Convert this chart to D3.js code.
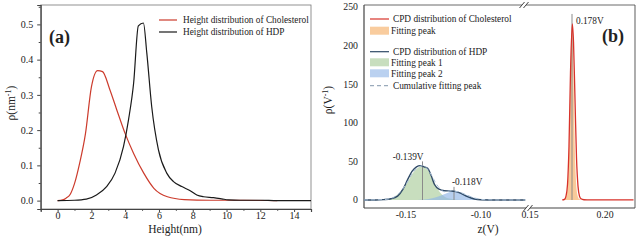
<!DOCTYPE html>
<html>
<head>
<meta charset="utf-8">
<script src="https://cdn.jsdelivr.net/npm/d3@7"></script>
<style>
  body { margin: 0; background: #fff; }
  svg { display: block; }
  text { font-family: "Liberation Serif", "Times New Roman", serif; fill: #222; }
</style>
</head>
<body>
<div id="chart"></div>
<script>
// ---- panel (a): height distributions ----
var cholHeight = [0, 0.3, 0.5, 0.75, 1.0, 1.3, 1.65, 2.0, 2.37, 2.66, 3.1, 3.5, 4.0, 4.5, 5.1, 5.7, 6.5, 7.5, 9, 11, 13];
var cholRho    = [0, 0.002, 0.007, 0.018, 0.048, 0.105, 0.19, 0.322, 0.369, 0.366, 0.314, 0.258, 0.19, 0.134, 0.078, 0.035, 0.011, 0.003, 0.001, 0.001, 0];
var hdpHeight  = [0, 1.0, 1.7, 2.3, 2.9, 3.4, 3.9, 4.2, 4.5, 4.78, 5.08, 5.28, 5.57, 5.97, 6.46, 6.86, 7.35, 7.85, 8.24, 8.64, 9.23, 9.72, 10.1, 10.8, 12, 13, 15];
var hdpRho     = [0, 0.001, 0.004, 0.016, 0.04, 0.078, 0.153, 0.23, 0.333, 0.496, 0.504, 0.419, 0.267, 0.144, 0.078, 0.054, 0.04, 0.028, 0.016, 0.011, 0.0085, 0.005, 0.002, 0.001, 0.001, 0, 0];
var heightTicks = [0, 2, 4, 6, 8, 10, 12, 14];
var rhoTicksA   = [0.0, 0.1, 0.2, 0.3, 0.4, 0.5];

// ---- panel (b): CPD distributions ----
var cpdHdpZ   = [-0.178, -0.17, -0.165, -0.16, -0.1556, -0.152, -0.149, -0.146, -0.143, -0.1405, -0.138, -0.1356, -0.1333, -0.131, -0.128, -0.1244, -0.12, -0.1167, -0.1133, -0.109, -0.1044, -0.1, -0.09, -0.0705];
var cpdHdpRho = [0, 0, 0.5, 1.6, 5, 14, 26, 37, 43, 44.5, 43, 41, 32, 20, 14, 12, 11.7, 10.8, 8.6, 4.3, 1.3, 0.3, 0, 0];
var fit1Z     = [-0.168, -0.165, -0.16, -0.155, -0.15, -0.145, -0.141, -0.139, -0.136, -0.133, -0.13, -0.127, -0.124, -0.12, -0.115, -0.11];
var fit1Rho   = [0, 0.5, 2, 8, 20, 36, 43, 44, 40, 30, 18, 9, 4, 1.5, 0.3, 0];
var fit2Z     = [-0.145, -0.14, -0.135, -0.13, -0.125, -0.12, -0.118, -0.115, -0.11, -0.105, -0.1, -0.095, -0.09];
var fit2Rho   = [0, 0.3, 1.2, 3.5, 7, 10.6, 11, 10.3, 6.8, 3, 0.8, 0.2, 0];
var cumZ      = [-0.178, -0.165, -0.16, -0.155, -0.15, -0.145, -0.141, -0.139, -0.136, -0.133, -0.13, -0.127, -0.124, -0.12, -0.118, -0.115, -0.11, -0.105, -0.1, -0.095, -0.09, -0.0705];
var cumRho    = [0, 0.5, 2, 8, 20.2, 36.5, 43.3, 44.3, 40.8, 32, 21.5, 14, 10.5, 12, 11.5, 10.6, 6.8, 3, 0.8, 0.2, 0, 0];
var cholZ     = [0.1715, 0.173, 0.174, 0.175, 0.176, 0.177, 0.1782, 0.179, 0.18, 0.181, 0.182, 0.183, 0.184, 0.186, 0.19, 0.219];
var cholCpd   = [0, 0.8, 5, 20, 70, 165, 228, 205, 130, 55, 18, 5, 1.5, 0.3, 0, 0];
var cholFitZ  = [0.172, 0.174, 0.175, 0.176, 0.177, 0.178, 0.179, 0.18, 0.181, 0.182, 0.183, 0.185];
var cholFitRho= [0, 4, 15, 60, 160, 225, 160, 60, 15, 4, 1, 0];
var zTicks    = [-0.15, -0.10, 0.15, 0.20];
var rhoTicksB = [0, 50, 100, 150, 200, 250];
var peakMarks = [{z: -0.139, top: 50, label: "-0.139V", anchor: "end", dx: 1, dy: -1},
                 {z: -0.118, top: 17, label: "-0.118V", anchor: "start", dx: -2, dy: -2},
                 {z: 0.178, top: 241, label: "0.178V", anchor: "start", dx: 4, dy: 10}];

var width = 638, height = 243;
var axisColor = "#444";
var redA = "#cc3b2c", blackA = "#1a1a1a";
var redB = "#d8322a", hdpColor = "#2f4a66";

var svg = d3.select("#chart").append("svg")
    .attr("width", width)
    .attr("height", height);

var pts = (xs, ys) => xs.map((x, i) => [x, ys[i]]);

// ================= panel (a) =================
var xA = d3.scaleLinear().domain([-1, 15]).range([40.7, 311]);
var yA = d3.scaleLinear().domain([-0.0238, 0.555]).range([209, 5]);

var gA = svg.append("g");

// frame
gA.append("rect")
    .attr("x", xA.range()[0]).attr("y", yA.range()[1])
    .attr("width", xA.range()[1] - xA.range()[0])
    .attr("height", yA.range()[0] - yA.range()[1])
    .attr("fill", "none").attr("stroke", "#777").attr("stroke-width", 0.8);

// axes with minor ticks
var xAxisA = gA.append("g").attr("transform", `translate(0,${yA.range()[0]})`)
    .call(d3.axisBottom(xA).tickValues(heightTicks).tickSize(3).tickFormat(d3.format("d")));
gA.append("g").attr("transform", `translate(0,${yA.range()[0]})`)
    .call(d3.axisBottom(xA).tickValues(d3.range(-1, 16, 1).filter(d => d % 2 !== 0)).tickSize(1.8).tickFormat(""))
    .call(g => g.select(".domain").remove());
var yAxisA = gA.append("g").attr("transform", `translate(${xA.range()[0]},0)`)
    .call(d3.axisLeft(yA).tickValues(rhoTicksA).tickSize(3.5).tickFormat(d3.format(".1f")));
gA.append("g").attr("transform", `translate(${xA.range()[0]},0)`)
    .call(d3.axisLeft(yA).tickValues([0.05, 0.15, 0.25, 0.35, 0.45, 0.55]).tickSize(2).tickFormat(""))
    .call(g => g.select(".domain").remove());

gA.selectAll(".domain").attr("stroke", axisColor).attr("stroke-width", 1.2);
gA.selectAll(".tick line").attr("stroke", axisColor);
gA.selectAll(".tick text").attr("font-family", "Liberation Serif").attr("font-size", 10).attr("fill", "#222");
xAxisA.selectAll(".tick text").attr("y", 3.2).attr("dy", "0.71em");
yAxisA.selectAll(".tick text").attr("dx", "-0.1em");

var lineA = d3.line().x(d => xA(d[0])).y(d => yA(d[1])).curve(d3.curveMonotoneX);
gA.append("path").datum(pts(cholHeight, cholRho))
    .attr("d", lineA).attr("fill", "none").attr("stroke", redA).attr("stroke-width", 1.2);
gA.append("path").datum(pts(hdpHeight, hdpRho))
    .attr("d", lineA).attr("fill", "none").attr("stroke", blackA).attr("stroke-width", 1.2);

// titles
gA.append("text").attr("x", 175).attr("y", 233).attr("text-anchor", "middle")
    .attr("font-size", 11.5).text("Height(nm)");
gA.append("text").attr("transform", "translate(15,103) rotate(-90)").attr("text-anchor", "middle")
    .attr("font-size", 11.5)
    .call(t => {
      t.append("tspan").text("ρ(nm");
      t.append("tspan").attr("font-size", 8).attr("dy", -4).text("-1");
      t.append("tspan").attr("dy", 4).text(")");
    });
gA.append("text").attr("x", 49).attr("y", 43)
    .attr("font-family", "Open Sans").attr("font-weight", "bold").attr("font-size", 18).attr("fill", "#111")
    .text("(a)");

// legend (a)
var legA = [{label: "Height distribution of Cholesterol", color: redA, y: 20},
            {label: "Height distribution of HDP", color: blackA, y: 32}];
var lgA = gA.selectAll(".legA").data(legA).join("g");
lgA.append("line").attr("x1", 159).attr("x2", 177).attr("y1", d => d.y).attr("y2", d => d.y)
    .attr("stroke", d => d.color).attr("stroke-width", 1.2);
lgA.append("text").attr("x", 183).attr("y", d => d.y + 3.2).attr("font-size", 9.3).text(d => d.label);

// ================= panel (b) =================
// broken axis: left part [-0.178,-0.07], right part [0.15,0.22]
var xB = d3.scaleLinear().domain([-0.178, -0.07, 0.15, 0.22]).range([364, 526, 530, 635]);
var yB = d3.scaleLinear().domain([-10.4, 252.6]).range([208, 5]);
var gB = svg.append("g");

var x0 = 364, x1 = 635, yTop = 5, yBot = 208, br1 = 526, br2 = 530;
var frame = [[x0, yTop, x0, yBot], [x1, yTop, x1, yBot],
             [x0, yBot, br1, yBot], [br2, yBot, x1, yBot],
             [x0, yTop, br1 - 4, yTop], [br2 - 4, yTop, x1, yTop]];
gB.selectAll(".frame").data(frame).join("line")
    .attr("x1", d => d[0]).attr("y1", d => d[1]).attr("x2", d => d[2]).attr("y2", d => d[3])
    .attr("stroke", d => d[0] === x1 && d[2] === x1 ? "#777" : axisColor)
    .attr("stroke-width", d => d[1] === yTop && d[3] === yTop ? 0.8 : 1.2);
// break marks
var breaks = [[br1, yBot], [br2, yBot], [br1 - 4, yTop], [br2 - 4, yTop]];
gB.selectAll(".brk").data(breaks).join("line")
    .attr("x1", d => d[0] - 2.5).attr("y1", d => d[1] + 3)
    .attr("x2", d => d[0] + 2.5).attr("y2", d => d[1] - 3)
    .attr("stroke", axisColor).attr("stroke-width", 1);

// tick labels (no tick marks)
gB.selectAll(".xl").data(zTicks).join("text")
    .attr("x", d => xB(d)).attr("y", 218).attr("text-anchor", "middle").attr("font-size", 9.8)
    .text(d => d3.format(".2f")(d).replace("−", "-"));
gB.selectAll(".yl").data(rhoTicksB).join("text")
    .attr("x", 358).attr("y", d => yB(d) + 3.4).attr("text-anchor", "end").attr("font-size", 9.8)
    .text(d => d);

// fills
var areaB = d3.area().x(d => xB(d[0])).y0(yB(0)).y1(d => yB(d[1])).curve(d3.curveMonotoneX);
var lineB = d3.line().x(d => xB(d[0])).y(d => yB(d[1])).curve(d3.curveMonotoneX);
gB.append("path").datum(pts(fit1Z, fit1Rho)).attr("d", areaB)
    .attr("fill", "#a6ca96").attr("fill-opacity", 0.62);
gB.append("path").datum(pts(fit2Z, fit2Rho)).attr("d", areaB)
    .attr("fill", "#8fb5e6").attr("fill-opacity", 0.65);
gB.append("path").datum(pts(cholFitZ, cholFitRho)).attr("d", areaB)
    .attr("fill", "#f6ad63").attr("fill-opacity", 0.65);

// peak marker lines and labels
gB.selectAll(".pk").data(peakMarks).join("line")
    .attr("x1", d => xB(d.z)).attr("x2", d => xB(d.z))
    .attr("y1", d => yB(d.top)).attr("y2", yB(0))
    .attr("stroke", "#8a8a8a").attr("stroke-width", 1);
gB.selectAll(".pkl").data(peakMarks).join("text")
    .attr("x", d => xB(d.z) + d.dx).attr("y", d => yB(d.top) + d.dy)
    .attr("text-anchor", d => d.anchor).attr("font-size", 9.3).text(d => d.label);

// curves
gB.append("path").datum(pts(cpdHdpZ, cpdHdpRho)).attr("d", lineB)
    .attr("fill", "none").attr("stroke", hdpColor).attr("stroke-width", 1.4);
gB.append("path").datum(pts(cumZ, cumRho)).attr("d", lineB)
    .attr("fill", "none").attr("stroke", "#a9bfd6").attr("stroke-width", 1).attr("stroke-dasharray", "4,3");
gB.append("path").datum(pts(cholZ, cholCpd)).attr("d", lineB)
    .attr("fill", "none").attr("stroke", redB).attr("stroke-width", 1.3);

// titles
gB.append("text").attr("x", 488).attr("y", 233).attr("text-anchor", "middle")
    .attr("font-size", 11.5).text("z(V)");
gB.append("text").attr("transform", "translate(332,100) rotate(-90)").attr("text-anchor", "middle")
    .attr("font-size", 11.5)
    .call(t => {
      t.append("tspan").text("ρ(V");
      t.append("tspan").attr("font-size", 8).attr("dy", -4).text("-1");
      t.append("tspan").attr("dy", 4).text(")");
    });
gB.append("text").attr("x", 602).attr("y", 42)
    .attr("font-family", "Open Sans").attr("font-weight", "bold").attr("font-size", 18).attr("fill", "#111")
    .text("(b)");

// legend (b)
var legB = [{label: "CPD distribution of Cholesterol", type: "line", color: redB, y: 19},
            {label: "Fitting peak", type: "box", color: "#f6ad63", y: 30.7},
            {label: "CPD distribution of HDP", type: "line", color: hdpColor, y: 51.7},
            {label: "Fitting peak 1", type: "box", color: "#a6ca96", y: 62.3},
            {label: "Fitting peak 2", type: "box", color: "#8fb5e6", y: 73.3},
            {label: "Cumulative fitting peak", type: "dash", color: "#9aaabb", y: 85.7}];
var lgB = gB.selectAll(".legB").data(legB).join("g");
lgB.filter(d => d.type !== "box").append("line")
    .attr("x1", 370).attr("x2", 389).attr("y1", d => d.y).attr("y2", d => d.y)
    .attr("stroke", d => d.color).attr("stroke-width", 1.2)
    .attr("stroke-dasharray", d => d.type === "dash" ? "4,3" : null);
lgB.filter(d => d.type === "box").append("rect")
    .attr("x", 370).attr("y", d => d.y - 4).attr("width", 19).attr("height", 8)
    .attr("fill", d => d.color).attr("fill-opacity", 0.62);
lgB.append("text").attr("x", d => d.type === "box" ? 391 : 393).attr("y", d => d.y + 3.2)
    .attr("font-size", 9.3).text(d => d.label);
</script>
</body>
</html>
